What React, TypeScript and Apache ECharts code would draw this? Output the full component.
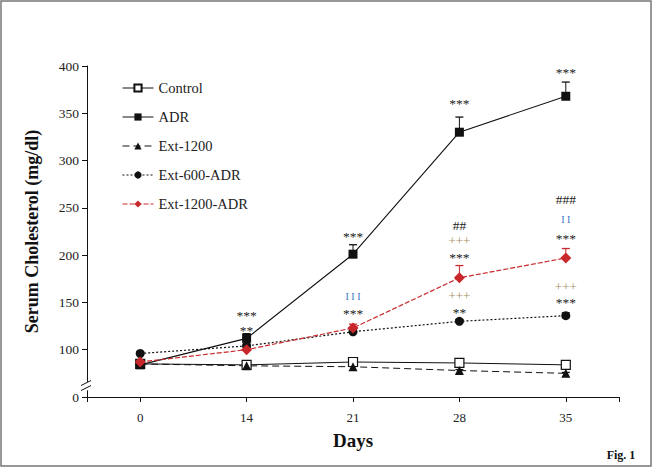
import React, { useEffect, useRef } from 'react';
import * as echarts from 'echarts';

const days = ['0', '14', '21', '28', '35'];

const control = [85, 84, 87, 86, 84];
const controlErr = [1, 1, 1, 1, 1];
const adr = [84, 112, 201, 330, 368];
const adrErr = [2, 5, 10, 16, 15];
const ext1200 = [85, 83, 82, 78, 75];
const ext1200Err = [1, 1, 1, 1, 1];
const ext600Adr = [96, 104, 119, 130, 136];
const ext600AdrErr = [2, 2, 2, 2, 3];
const ext1200Adr = [87, 100, 123, 176, 197];
const ext1200AdrErr = [2, 3, 4, 13, 10];

const yTickValues = [50, 100, 150, 200, 250, 300, 350, 400];
const yTickLabels = ['0', '100', '150', '200', '250', '300', '350', '400'];

// [day index, y value, text, kind]
const annotations: [number, number, string, string][] = [
  [1, 139, '***', 'star'],
  [1, 123, '**', 'star'],
  [2, 223, '***', 'star'],
  [2, 156, 'I I I', 'bar'],
  [2, 141, '***', 'star'],
  [3, 363, '***', 'star'],
  [3, 231, '##', 'hash'],
  [3, 215, '+++', 'plus'],
  [3, 201, '***', 'star'],
  [3, 157, '+++', 'plus'],
  [3, 143, '**', 'star'],
  [4, 396, '***', 'star'],
  [4, 259, '###', 'hash'],
  [4, 238, 'I I', 'bar'],
  [4, 221, '***', 'star'],
  [4, 167, '+++', 'plus'],
  [4, 153, '***', 'star'],
];

const FONT = '"Liberation Serif", "DejaVu Serif", serif';
const RED = '#c8282c';

const kindColor: Record<string, string> = {
  star: '#222222',
  bar: '#3a78c8',
  hash: '#222222',
  plus: '#a88e62',
};
const kindOffset: Record<string, number> = { star: 3, bar: 0, hash: 0, plus: 0 };
const kindSize: Record<string, number> = { star: 13.5, bar: 10, hash: 13.5, plus: 13 };

function toPts(vals: number[]) {
  return vals.map((v, i) => [i, v]);
}

function errSeries(vals: number[], errs: number[], color: string) {
  return {
    type: 'custom',
    silent: true,
    clip: false,
    z: 1,
    data: vals.map((v, i) => [i, v, errs[i]]),
    renderItem: (params: any, api: any) => {
      const x = api.value(0);
      const v = api.value(1);
      const e = api.value(2);
      const p0 = api.coord([x, v]);
      const p1 = api.coord([x, v + e]);
      return {
        type: 'group',
        children: [
          { type: 'line', shape: { x1: p0[0], y1: p0[1], x2: p1[0], y2: p1[1] }, style: { stroke: color, lineWidth: 1 } },
          { type: 'line', shape: { x1: p1[0] - 4, y1: p1[1], x2: p1[0] + 4, y2: p1[1] }, style: { stroke: color, lineWidth: 1.3 } },
        ],
      };
    },
  };
}

export default function App() {
  const ref = useRef<HTMLDivElement>(null);
  useEffect(() => {
    if (!ref.current) return;
    const chart = echarts.init(ref.current, null, { renderer: 'svg' });
    const option: any = {
      animation: false,
      backgroundColor: '#ffffff',
      textStyle: { fontFamily: FONT },
      grid: { left: 87, right: 43, top: 66, bottom: 79 },
      legend: {
        orient: 'vertical',
        left: 122,
        top: 80.5,
        padding: 0,
        itemWidth: 31,
        itemHeight: 9,
        itemGap: 14,
        lineStyle: { width: 1 },
        data: ['Control', 'ADR', 'Ext-1200', 'Ext-600-ADR', 'Ext-1200-ADR'],
        textStyle: { fontFamily: FONT, fontSize: 14.5, color: '#222' },
      },
      xAxis: {
        type: 'value',
        min: -0.5,
        max: 4.5,
        name: 'Days',
        nameLocation: 'middle',
        nameGap: 34,
        nameTextStyle: { fontFamily: FONT, fontSize: 19, fontWeight: 'bold', color: '#111' },
        axisLine: { onZero: false, lineStyle: { color: '#111', width: 1 } },
        axisTick: { show: true, length: 5, lineStyle: { color: '#111' }, customValues: [-0.5, 0, 1, 2, 3, 4, 4.5] },
        axisLabel: {
          customValues: [0, 1, 2, 3, 4],
          formatter: (v: number) => days[Math.round(v)] ?? '',
          fontFamily: FONT,
          fontSize: 13,
          color: '#222',
          margin: 14,
        },
        splitLine: { show: false },
      },
      yAxis: {
        type: 'value',
        min: 50,
        max: 400,
        interval: 50,
        name: 'Serum Cholesterol (mg/dl)',
        nameLocation: 'middle',
        nameGap: 46,
        nameTextStyle: { fontFamily: FONT, fontSize: 18, fontWeight: 'bold', color: '#111' },
        axisLine: { show: true, onZero: false, lineStyle: { color: '#111', width: 1 } },
        axisTick: { show: true, length: 5, lineStyle: { color: '#111' } },
        axisLabel: {
          formatter: (v: number) => {
            const i = yTickValues.indexOf(v);
            return i >= 0 ? yTickLabels[i] : '';
          },
          fontFamily: FONT,
          fontSize: 13.5,
          color: '#222',
          margin: 8,
        },
        splitLine: { show: false },
      },
      series: [
        errSeries(control, controlErr, '#111'),
        errSeries(ext1200, ext1200Err, '#111'),
        errSeries(ext600Adr, ext600AdrErr, '#111'),
        errSeries(adr, adrErr, '#111'),
        errSeries(ext1200Adr, ext1200AdrErr, RED),
        {
          name: 'Control',
          type: 'line',
          data: toPts(control),
          symbol: 'rect',
          symbolSize: 9,
          lineStyle: { color: '#111', width: 1 },
          itemStyle: { color: '#ffffff', borderColor: '#111', borderWidth: 1.2 },
          z: 3,
        },
        {
          name: 'ADR',
          type: 'line',
          data: toPts(adr),
          symbol: 'rect',
          symbolSize: 9,
          lineStyle: { color: '#111', width: 1.1 },
          itemStyle: { color: '#111' },
          z: 3,
        },
        {
          name: 'Ext-1200',
          type: 'line',
          data: toPts(ext1200),
          symbol: 'triangle',
          symbolSize: 9,
          lineStyle: { color: '#111', width: 1, type: [7, 4] },
          itemStyle: { color: '#111' },
          z: 3,
        },
        {
          name: 'Ext-600-ADR',
          type: 'line',
          data: toPts(ext600Adr),
          symbol: 'circle',
          symbolSize: 9,
          lineStyle: { color: '#111', width: 1.2, type: [2, 2] },
          itemStyle: { color: '#111' },
          z: 3,
        },
        {
          name: 'Ext-1200-ADR',
          type: 'line',
          data: toPts(ext1200Adr),
          symbol: 'diamond',
          symbolSize: 11,
          lineStyle: { color: RED, width: 1.2, type: [5, 2] },
          itemStyle: { color: RED },
          z: 4,
        },
        {
          type: 'custom',
          silent: true,
          clip: false,
          z: 5,
          data: annotations.map((a) => [a[0], a[1]]),
          renderItem: (params: any, api: any) => {
            const a = annotations[params.dataIndex];
            const p = api.coord([api.value(0), api.value(1)]);
            return {
              type: 'text',
              x: p[0],
              y: p[1] + kindOffset[a[3]],
              style: {
                text: a[2],
                fill: kindColor[a[3]],
                font: `${kindSize[a[3]]}px ${FONT}`,
                lineHeight: a[3] === 'star' ? 8 : 10,
                align: 'center',
                verticalAlign: 'middle',
              },
            };
          },
        },
      ],
    };
    chart.setOption(option);

    const ax = chart.convertToPixel({ xAxisIndex: 0 }, -0.5) as number;
    const yTop = chart.convertToPixel({ yAxisIndex: 0 }, 66) as number;
    const yBot = chart.convertToPixel({ yAxisIndex: 0 }, 57) as number;
    const yM1 = chart.convertToPixel({ yAxisIndex: 0 }, 64.8) as number;
    const yM2 = chart.convertToPixel({ yAxisIndex: 0 }, 59.5) as number;
    chart.setOption({
      graphic: [
        {
          type: 'rect',
          shape: { x: 1, y: 1, width: 650, height: 465 },
          style: { fill: 'none', stroke: '#777', lineWidth: 1.5 },
          silent: true,
        },
        {
          type: 'rect',
          shape: { x: ax - 3, y: yTop, width: 6, height: yBot - yTop },
          style: { fill: '#fff' },
          z: 100,
        },
        {
          type: 'line',
          shape: { x1: ax - 6, y1: yM1 + 2.5, x2: ax + 4, y2: yM1 - 2.5 },
          style: { stroke: '#111', lineWidth: 1 },
          z: 101,
        },
        {
          type: 'line',
          shape: { x1: ax - 6, y1: yM2 + 2.5, x2: ax + 4, y2: yM2 - 2.5 },
          style: { stroke: '#111', lineWidth: 1 },
          z: 101,
        },
        {
          type: 'text',
          x: 621,
          y: 455,
          style: { text: 'Fig. 1', font: `bold 12px ${FONT}`, fill: '#111', align: 'center', verticalAlign: 'middle' },
          z: 101,
        },
      ],
    });
    return () => chart.dispose();
  }, []);
  return <div ref={ref} style={{ position: 'fixed', left: 0, top: 0, width: 662, height: 476 }} />;
}
